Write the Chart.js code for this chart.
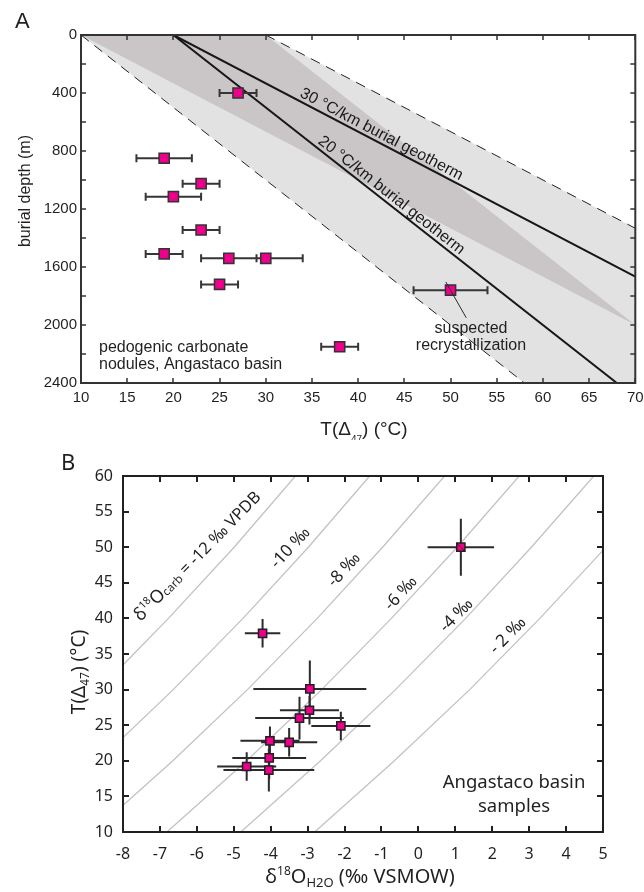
<!DOCTYPE html>
<html><head><meta charset="utf-8">
<script src="https://cdn.jsdelivr.net/npm/chart.js@4.4.1/dist/chart.umd.min.js"></script>
<style>
html,body{margin:0;padding:0;background:#fff;}
#wrap{width:644px;height:892px;position:relative;overflow:hidden;}
canvas{display:block;}
</style></head><body>
<div id="wrap">
<canvas id="cA" width="644" height="440"></canvas>
<canvas id="cB" width="644" height="452"></canvas>
</div>
<script>
// ---------- Panel A data ----------
const tempA   = [27, 19, 23, 20, 23, 19, 26, 30, 25, 38, 50];
const depthA  = [400, 850, 1025, 1115, 1345, 1510, 1540, 1540, 1720, 2150, 1760];
const tempErrA = [2, 3, 2, 3, 2, 2, 3, 4, 2, 2, 4];
const xTicksA = [10, 15, 20, 25, 30, 35, 40, 45, 50, 55, 60, 65, 70];
const yTicksA = [0, 400, 800, 1200, 1600, 2000, 2400];
const lightBandT = [10, 30, 70, 70, 58];
const lightBandZ = [0, 0, 1333, 2400, 2400];
const darkBandT = [10, 30, 70];
const darkBandZ = [0, 0, 2000];
const dashLoT = [10, 58], dashLoZ = [0, 2400];
const dashHiT = [30, 70], dashHiZ = [0, 1333];
const geo30T = [20, 70], geo30Z = [0, 1667];
const geo20T = [20, 68], geo20Z = [0, 2400];
const recrystLeaderEnd = {x: 51.7, y: 1950};

// ---------- Panel B data ----------
const d18Ow    = [-4.22, -2.94, -2.95, -3.22, -2.10, -4.02, -3.50, -4.04, -4.65, -4.05, 1.15];
const tempB    = [37.9, 30.1, 27.1, 26.0, 24.9, 22.8, 22.6, 20.4, 19.2, 18.7, 50.0];
const d18OwErr = [0.48, 1.53, 0.8, 1.2, 0.8, 0.8, 0.76, 1.0, 0.8, 1.23, 0.9];
const tempErrB = [2, 4, 2, 3, 2, 2, 2, 3, 2, 3, 4];
const xTicksB = [-8,-7,-6,-5,-4,-3,-2,-1,0,1,2,3,4,5];
const yTicksB = [10,15,20,25,30,35,40,45,50,55,60];
const isoT   = [10, 20, 30, 40, 50, 60];
const isoM12 = [-12.80, -10.66, -8.65, -6.77, -4.99, -3.33];
const isoM10 = [-10.81, -8.66, -6.64, -4.75, -2.98, -1.32];
const isoM8  = [-8.81, -6.65, -4.63, -2.74, -0.97, 0.71];
const isoM6  = [-6.81, -4.65, -2.62, -0.73, 1.05, 2.73];
const isoM4  = [-4.81, -2.65, -0.62, 1.28, 3.06, 4.75];
const isoM2  = [-2.81, -0.65, 1.39, 3.29, 5.08, 6.76];
const isoLines = [isoM12, isoM10, isoM8, isoM6, isoM4, isoM2];
const isoLabelX = [-7.52, -3.82, -2.28, -0.74, 0.75, 2.10];
const isoLabelY = [39.5, 46.9, 44.3, 41.0, 37.95, 34.9];
const isoLabelText = ['-12', '-10 ‰', '-8 ‰', '-6 ‰', '-4 ‰', '- 2 ‰'];

const FA = "'Liberation Sans', Arial, sans-serif";
const FB = "'Noto Sans', 'Open Sans', sans-serif";
const INK = '#231f20';
const PINK = '#ec008c';

function pts(xs, ys) { return xs.map((x, i) => ({x: x, y: ys[i]})); }

function rich(ctx, segs, x, y, o) {
  ctx.save();
  ctx.translate(x, y);
  if (o.rot) ctx.rotate(o.rot);
  ctx.fillStyle = o.color || INK;
  ctx.textBaseline = 'alphabetic';
  ctx.textAlign = 'left';
  let w = 0;
  const ms = segs.map(s => { ctx.font = s.size + 'px ' + o.family; const m = ctx.measureText(s.t).width; w += m; return m; });
  let cx = o.align === 'center' ? -w / 2 : (o.align === 'right' ? -w : 0);
  segs.forEach((s, i) => { ctx.font = s.size + 'px ' + o.family; ctx.fillText(s.t, cx, s.dy || 0); cx += ms[i]; });
  ctx.restore();
}

function drawFrame(chart, o) {
  const ctx = chart.ctx, a = chart.chartArea, xs = chart.scales.x, ys = chart.scales.y;
  ctx.save();
  ctx.strokeStyle = o.color;
  ctx.lineWidth = o.tickWidth;
  ctx.beginPath();
  xs.ticks.forEach(t => {
    const px = Math.round(xs.getPixelForValue(t.value));
    ctx.moveTo(px, a.bottom); ctx.lineTo(px, a.bottom - o.len);
    ctx.moveTo(px, a.top); ctx.lineTo(px, a.top + o.len);
  });
  ys.ticks.forEach(t => {
    const py = Math.round(ys.getPixelForValue(t.value));
    ctx.moveTo(a.left, py); ctx.lineTo(a.left + o.len, py);
    ctx.moveTo(a.right, py); ctx.lineTo(a.right - o.len, py);
  });
  ctx.stroke();
  ctx.lineWidth = o.width;
  ctx.strokeRect(a.left, a.top, a.right - a.left, a.bottom - a.top);
  ctx.restore();
}

function lineDS(xs, ys, color, width, extra) {
  return Object.assign({data: pts(xs, ys), showLine: true, pointRadius: 0, borderColor: color, borderWidth: width, fill: false}, extra || {});
}

// ---------------- Chart A ----------------
const pluginA = {
  id: 'panelA',
  beforeDatasetDraw(chart, args) {
    if (args.index !== 0) return;
    const ctx = chart.ctx, xs = chart.scales.x, ys = chart.scales.y;
    ctx.save();
    ctx.strokeStyle = '#363636';
    ctx.lineWidth = 2;
    ctx.beginPath();
    tempA.forEach((t, i) => {
      const x1 = xs.getPixelForValue(t - tempErrA[i]);
      const x2 = xs.getPixelForValue(t + tempErrA[i]);
      const y = ys.getPixelForValue(depthA[i]);
      ctx.moveTo(x1, y); ctx.lineTo(x2, y);
      ctx.moveTo(x1, y - 4); ctx.lineTo(x1, y + 4);
      ctx.moveTo(x2, y - 4); ctx.lineTo(x2, y + 4);
    });
    ctx.stroke();
    ctx.restore();
  },
  afterDatasetsDraw(chart) {
    const ctx = chart.ctx, xs = chart.scales.x, ys = chart.scales.y;
    const cx = xs.getPixelForValue(tempA[10]), cy = ys.getPixelForValue(depthA[10]);
    const ex = xs.getPixelForValue(recrystLeaderEnd.x), ey = ys.getPixelForValue(recrystLeaderEnd.y);
    ctx.save();
    ctx.strokeStyle = '#2a2a2a';
    ctx.lineWidth = 1;
    ctx.beginPath();
    ctx.moveTo(cx - 0.3 * (ex - cx), cy - 0.3 * (ey - cy));
    ctx.lineTo(ex, ey);
    ctx.stroke();
    ctx.restore();
    const geoLabel = (T, Z, labelT, text) => {
      const p1x = xs.getPixelForValue(T[0]), p1y = ys.getPixelForValue(Z[0]);
      const p2x = xs.getPixelForValue(T[1]), p2y = ys.getPixelForValue(Z[1]);
      const ang = Math.atan2(p2y - p1y, p2x - p1x);
      const f = (labelT - T[0]) / (T[1] - T[0]);
      const z = Z[0] + f * (Z[1] - Z[0]);
      const px = xs.getPixelForValue(labelT), py = ys.getPixelForValue(z);
      const off = 4;
      rich(ctx, [{t: text, size: 16}], px + off * Math.sin(ang), py - off * Math.cos(ang), {family: FA, rot: ang, color: '#1a1a1a'});
    };
    geoLabel(geo30T, geo30Z, 33.4, '30 °C/km burial geotherm');
    geoLabel(geo20T, geo20Z, 35.3, '20 °C/km burial geotherm');
  },
  afterDraw(chart) {
    const ctx = chart.ctx;
    drawFrame(chart, {color: '#333', width: 2, tickWidth: 1.5, len: 5});
    rich(ctx, [{t: 'A', size: 22}], 15, 28, {family: FA});
    rich(ctx, [{t: 'burial depth (m)', size: 16}], 30, 191, {family: FA, rot: -Math.PI / 2, align: 'center'});
    rich(ctx, [{t: 'T(Δ', size: 19}, {t: '47', size: 10, dy: 8}, {t: ') (°C)', size: 19}], 364, 435, {family: FA, align: 'center'});
    rich(ctx, [{t: 'pedogenic carbonate', size: 16}], 99, 352, {family: FA});
    rich(ctx, [{t: 'nodules, Angastaco basin', size: 16}], 99, 369, {family: FA});
    rich(ctx, [{t: 'suspected', size: 16}], 471, 333, {family: FA, align: 'center'});
    rich(ctx, [{t: 'recrystallization', size: 16}], 471, 350, {family: FA, align: 'center'});
  }
};

new Chart(document.getElementById('cA'), {
  type: 'scatter',
  data: {datasets: [
    {data: pts(tempA, depthA), pointStyle: 'rect', pointRadius: 7.2, backgroundColor: PINK, borderColor: '#333', borderWidth: 1.5},
    lineDS(geo30T, geo30Z, '#161616', 2),
    lineDS(geo20T, geo20Z, '#161616', 2),
    lineDS(dashLoT, dashLoZ, '#222', 1, {borderDash: [10, 7]}),
    lineDS(dashHiT, dashHiZ, '#222', 1, {borderDash: [10, 7]}),
    lineDS(darkBandT, darkBandZ, 'rgba(0,0,0,0)', 0, {fill: 'shape', backgroundColor: '#cac6c7'}),
    lineDS(lightBandT, lightBandZ, 'rgba(0,0,0,0)', 0, {fill: 'shape', backgroundColor: '#e2e2e2'})
  ]},
  options: {
    responsive: false, animation: false, events: [],
    layout: {padding: {left: 0, top: 35, right: 7, bottom: 0}},
    plugins: {legend: {display: false}, tooltip: {enabled: false}},
    scales: {
      x: {type: 'linear', min: 10, max: 70,
        grid: {display: false, drawTicks: false, tickLength: 0}, border: {display: false},
        ticks: {stepSize: 5, autoSkip: false, maxRotation: 0, padding: 6, color: INK, font: {family: FA, size: 15},
          callback: v => xTicksA.includes(v) ? String(v) : ''},
        afterFit(s) { s.height = 57; s.paddingLeft = 0; s.paddingRight = 0; }
      },
      y: {type: 'linear', min: 0, max: 2400, reverse: true,
        grid: {display: false, drawTicks: false, tickLength: 0}, border: {display: false},
        ticks: {stepSize: 200, autoSkip: false, padding: 4, color: INK, font: {family: FA, size: 15},
          callback: v => yTicksA.includes(v) ? String(v) : ''},
        afterFit(s) { s.width = 81; s.paddingTop = 0; s.paddingBottom = 0; }
      }
    }
  },
  plugins: [pluginA]
});

// ---------------- Chart B ----------------
function isoAngle(chart, line, T) {
  const xs = chart.scales.x, ys = chart.scales.y;
  let k = 0;
  while (k < isoT.length - 2 && T > isoT[k + 1]) k++;
  const ax = xs.getPixelForValue(line[k]), ay = ys.getPixelForValue(isoT[k]);
  const bx = xs.getPixelForValue(line[k + 1]), by = ys.getPixelForValue(isoT[k + 1]);
  return Math.atan2(by - ay, bx - ax);
}

const pluginB = {
  id: 'panelB',
  beforeDatasetDraw(chart, args) {
    if (args.index !== 0) return;
    const ctx = chart.ctx, xs = chart.scales.x, ys = chart.scales.y;
    ctx.save();
    ctx.strokeStyle = '#2b2b2b';
    ctx.lineWidth = 2;
    ctx.beginPath();
    d18Ow.forEach((d, i) => {
      const px = xs.getPixelForValue(d), py = ys.getPixelForValue(tempB[i]);
      ctx.moveTo(xs.getPixelForValue(d - d18OwErr[i]), py); ctx.lineTo(xs.getPixelForValue(d + d18OwErr[i]), py);
      ctx.moveTo(px, ys.getPixelForValue(tempB[i] - tempErrB[i])); ctx.lineTo(px, ys.getPixelForValue(tempB[i] + tempErrB[i]));
    });
    ctx.stroke();
    ctx.restore();
  },
  afterDatasetsDraw(chart) {
    const ctx = chart.ctx, xs = chart.scales.x, ys = chart.scales.y;
    const cx = xs.getPixelForValue(d18Ow[10]), cy = ys.getPixelForValue(tempB[10]);
    ctx.save();
    ctx.strokeStyle = INK; ctx.lineWidth = 1;
    ctx.beginPath(); ctx.moveTo(cx - 4, cy - 4); ctx.lineTo(cx + 4, cy + 4); ctx.stroke();
    ctx.restore();
    isoLines.forEach((line, i) => {
      const ang = isoAngle(chart, line, isoLabelY[i]);
      const px = xs.getPixelForValue(isoLabelX[i]), py = ys.getPixelForValue(isoLabelY[i]);
      let segs;
      if (i === 0) {
        segs = [{t: 'δ', size: 18}, {t: '18', size: 10.5, dy: -7}, {t: 'O', size: 18}, {t: 'carb', size: 11.5, dy: 1}, {t: ' = -12 ‰ VPDB', size: 16.5}];
      } else {
        segs = [{t: isoLabelText[i], size: 17}];
      }
      rich(ctx, segs, px, py, {family: FB, rot: ang});
    });
  },
  afterDraw(chart) {
    const ctx = chart.ctx;
    drawFrame(chart, {color: INK, width: 2, tickWidth: 2, len: 6});
    rich(ctx, [{t: 'B', size: 22}], 61, 30, {family: FB});
    rich(ctx, [{t: 'T(Δ', size: 19}, {t: '47', size: 12, dy: 4}, {t: ') (°C)', size: 19}], 85, 232, {family: FB, rot: -Math.PI / 2, align: 'center'});
    rich(ctx, [{t: 'δ', size: 20}, {t: '18', size: 12, dy: -8}, {t: 'O', size: 20}, {t: 'H2O', size: 13, dy: 4}, {t: ' (‰ VSMOW)', size: 20}], 360, 443, {family: FB, align: 'center'});
    rich(ctx, [{t: 'Angastaco basin', size: 18.5}], 514, 348, {family: FB, align: 'center'});
    rich(ctx, [{t: 'samples', size: 18.5}], 514, 372, {family: FB, align: 'center'});
  }
};

const isoDatasets = isoLines.map(l => lineDS(l, isoT, '#c2c2c2', 1.3));

new Chart(document.getElementById('cB'), {
  type: 'scatter',
  data: {datasets: [
    {data: pts(d18Ow, tempB), pointStyle: 'rect', pointRadius: 5.8, backgroundColor: PINK, borderColor: INK, borderWidth: 1.5}
  ].concat(isoDatasets)},
  options: {
    responsive: false, animation: false, events: [],
    layout: {padding: {left: 0, top: 36, right: 41, bottom: 0}},
    plugins: {legend: {display: false}, tooltip: {enabled: false}},
    scales: {
      x: {type: 'linear', min: -8, max: 5,
        grid: {display: false, drawTicks: false, tickLength: 0}, border: {display: false},
        ticks: {stepSize: 1, autoSkip: false, maxRotation: 0, padding: 13, color: INK, font: {family: FB, size: 16},
          callback: v => xTicksB.includes(v) ? String(v) : ''},
        afterFit(s) { s.height = 60; s.paddingLeft = 0; s.paddingRight = 0; }
      },
      y: {type: 'linear', min: 10, max: 60,
        grid: {display: false, drawTicks: false, tickLength: 0}, border: {display: false},
        ticks: {stepSize: 5, autoSkip: false, padding: 10, color: INK, font: {family: FB, size: 16},
          callback: v => yTicksB.includes(v) ? String(v) : ''},
        afterFit(s) { s.width = 123; s.paddingTop = 0; s.paddingBottom = 0; }
      }
    }
  },
  plugins: [pluginB]
});
</script>
</body></html>
